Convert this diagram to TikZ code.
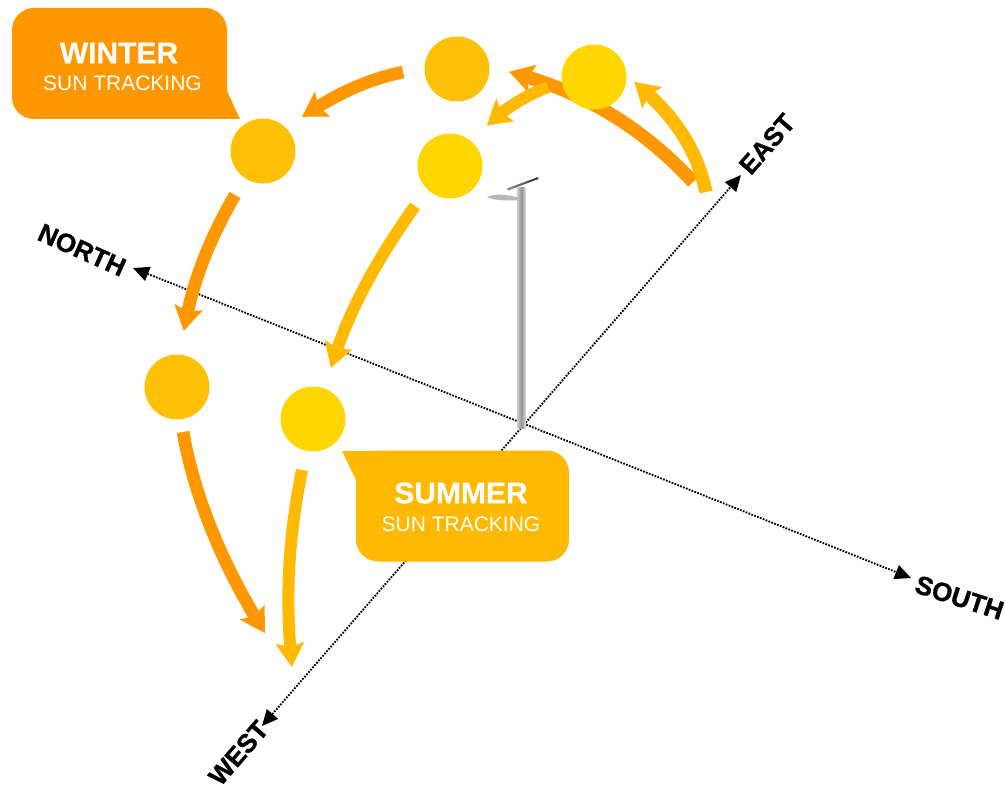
\documentclass[tikz,border=0pt]{standalone}
\usepackage{fontspec}
\setmainfont{Liberation Sans}[BoldFeatures={FakeBold=0.4}]
\newfontfamily\heavyfont{Liberation Sans}[BoldFeatures={FakeBold=1.2}]
\usetikzlibrary{arrows.meta,bending}
\definecolor{winterc}{HTML}{FF9800}
\definecolor{summerc}{HTML}{FFB900}
\definecolor{wsun}{HTML}{FFC107}
\definecolor{ssun}{HTML}{FFD600}
\tikzset{
  sunw/.style={circle,fill=wsun,minimum size=48.75pt,inner sep=0pt},
  suns/.style={circle,fill=ssun,minimum size=48.75pt,inner sep=0pt},
  axisline/.style={line width=1.4pt,dash pattern=on 1.3pt off 1pt,black,{Triangle[length=12pt,width=11pt]}-{Triangle[length=12pt,width=11pt]}},
  warrow/.style={line width=9.5pt,winterc,-{Stealth[length=18pt,width=21pt,inset=3pt,bend]}},
  sarrow/.style={line width=9pt,summerc,-{Stealth[length=18pt,width=21pt,inset=3pt,bend]}},
  boxw/.style={rectangle,rounded corners=16.5pt,fill=winterc,minimum width=161.25pt,minimum height=83.25pt,inner sep=0pt},
  boxs/.style={rectangle,rounded corners=16.5pt,fill=summerc,minimum width=159.75pt,minimum height=83.25pt,inner sep=0pt},
  titletext/.style={text=white,font=\fontsize{22.5}{24}\selectfont\bfseries,inner sep=0pt},
  subtext/.style={text=white,font=\fontsize{15.75}{18}\selectfont,inner sep=0pt},
  axislabel/.style={text=black,font=\heavyfont\fontsize{19.5}{20}\selectfont\bfseries,inner sep=0pt},
}
\begin{document}
\begin{tikzpicture}[x=0.75pt,y=-0.75pt]
\useasboundingbox (0,0) rectangle (1005,787);
% axes
\coordinate (nn) at (133,268);
\coordinate (ss) at (911,578);
\coordinate (ee) at (741,175);
\coordinate (ww) at (262,726);
\draw[axisline] (nn) -- (ss);
\draw[axisline] (ww) -- (ee);
% pole
\shade[left color=black!22,right color=black!15,middle color=black!42] (517.5,188) rectangle (525.5,428);
\shade[left color=black!45,right color=black!80] (507,188.5) -- (538,177) -- (538.5,179) -- (508,190.5) -- cycle;
\fill[black!28] (487,197) .. controls (495,193.5) and (505,194) .. (518,197.5) -- (518,200.5) .. controls (505,200.5) and (493,200.5) .. (487,197) -- cycle;
% suns
\node[sunw] (w1) at (457,69) {};
\node[sunw] (w2) at (263,151) {};
\node[sunw] (w3) at (177,387) {};
\node[suns] (s2) at (450,166) {};
\node[suns] (s3) at (313,419) {};
% arrow ends
\coordinate (wa) at (693,182);
\coordinate (wb) at (509,72);
\coordinate (wc) at (403,72);
\coordinate (wd) at (302,117);
\coordinate (we) at (235,195);
\coordinate (wf) at (184,331);
\coordinate (wg) at (183,432);
\coordinate (wh) at (265,633);
\coordinate (sa) at (706,192);
\coordinate (sb) at (634,82);
\coordinate (sc) at (548,87);
\coordinate (sd) at (487,126);
\coordinate (se) at (415,206);
\coordinate (sf) at (331,368);
\coordinate (sg) at (302,470);
\coordinate (sh) at (292,667);
\draw[warrow,line width=10pt] (wa) .. controls (640,125) and (580,90) .. (wb);
\node[suns] (s1) at (594,77) {};
\draw[sarrow,line width=10pt] (sa) .. controls (697,150) and (675,115) .. (sb);
\draw[sarrow] (sc) .. controls (525,96) and (505,108) .. (sd);
\draw[warrow] (wc) .. controls (365,80) and (335,95) .. (wd);
\draw[warrow] (we) .. controls (212,235) and (192,280) .. (wf);
\draw[warrow] (wg) .. controls (195,500) and (225,570) .. (wh);
\draw[sarrow] (se) .. controls (380,255) and (348,310) .. (sf);
\draw[sarrow] (sg) .. controls (288,540) and (285,600) .. (sh);
% callouts
\fill[winterc] (200,91) -- (227,91) -- (240,119) -- (200,119) -- cycle;
\node[boxw] (winterbox) at (119.5,63.5) {};
\node[titletext] (wintert) at (119,53) {WINTER};
\node[subtext] (winters) at (122.5,83) {SUN TRACKING};
\fill[summerc] (400,451) -- (342,451) -- (356,480) -- (400,480) -- cycle;
\node[boxs] (summerbox) at (462.5,506) {};
\node[titletext] (summert) at (461,493) {SUMMER};
\node[subtext] (summers) at (461,524) {SUN TRACKING};
% axis labels
\node[axislabel,rotate=-18] (southl) at (959.5,597.5) {SOUTH};
\node[axislabel,rotate=-24] (northl) at (82,250) {NORTH};
\node[axislabel,rotate=49] (eastl) at (767,144) {EAST};
\node[axislabel,rotate=49] (westl) at (238.5,753) {WEST};
\end{tikzpicture}
\end{document}
